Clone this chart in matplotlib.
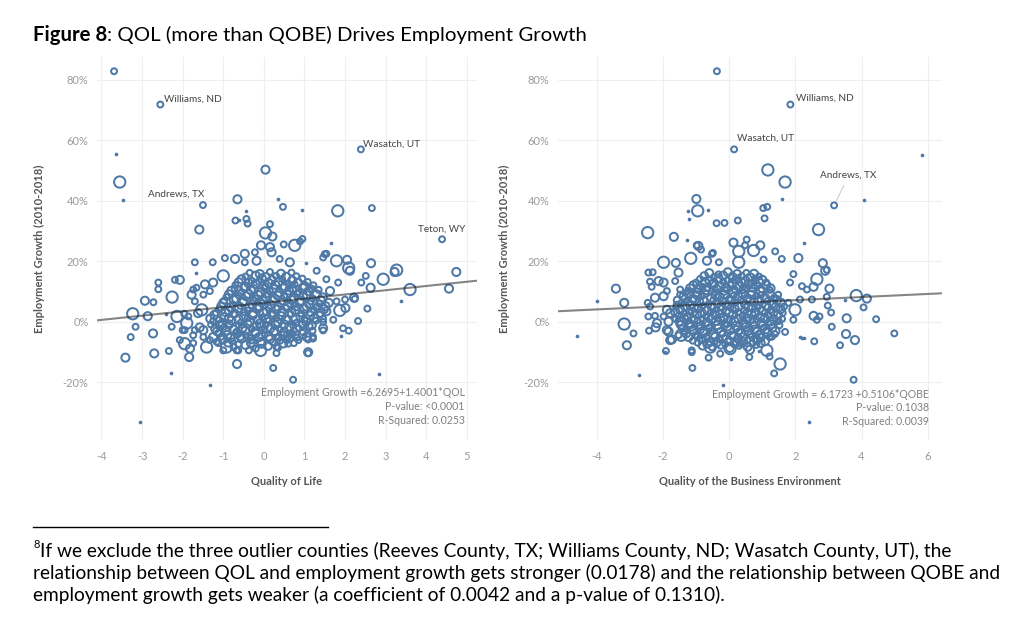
import matplotlib
matplotlib.use("Agg")
import matplotlib.pyplot as plt
from matplotlib.lines import Line2D

plt.rcParams["font.family"] = ["Lato", "DejaVu Sans"]

# ---------------- data ----------------
# size code: 0 = tiny filled dot, 1 = small ring, 2 = medium ring, 3 = large ring
QOL_INTERCEPT, QOL_SLOPE = 6.2695, 1.4001
QOBE_INTERCEPT, QOBE_SLOPE = 6.1723, 0.5106

# left panel, scattered counties
qol_x = [-3.69, -2.55, 2.39, -3.65, -3.55, -3.46, -1.50, -0.65, 0.04, 0.34, 0.47, 0.95, 1.82, 2.66,
         -1.59, -0.70, -0.62, -0.45, -0.43, -0.40, 0.15, 0.04, 0.21, 1.65, 4.39, -0.07, 0.15, 0.49,
         0.76, 0.89, 0.95,
         -1.32, -3.05, -2.29, -0.66, 0.23, 0.72, 2.83, -3.41, -3.28, -3.16, -3.23, -2.93, -2.72, -2.86,
         -2.73, -2.70, -2.60, -2.60, -2.34, -2.26, -2.19, -2.07, -2.42,
         2.64, 2.94, 3.27, 3.22, 3.60, 3.37, 4.56, 4.74, 2.32, 2.55, 2.22, 2.09, 1.79, 2.05, 2.01, 1.87,
         1.95, 2.09, 1.90, 2.51, 2.40, 2.63, 2.24, 2.12, 1.46, 1.50, 1.46, 1.46, 1.21, 1.09,
         -2.27, -2.14, -1.96, -1.90, -2.00, -2.07, -1.95, -1.84, -1.82, -1.74, -1.70, -1.58, -1.49, -1.41,
         -1.25, -1.12, -0.92, -0.63, -0.37, -0.08, -1.62, -1.78, -1.66, -1.45, -1.49, -1.33, -1.25, -1.70,
         -1.66, -1.26, -0.96, -1.00, -0.47, -0.47, -0.18, 0.19,
         1.54, 1.05, 1.30, 0.64, 0.39, -0.22, -0.71, -1.74, -1.70, -1.53, -1.86, -1.95, -1.74, -1.49,
         -1.33, -1.16, -1.00, -0.67, 0.31, 0.31, 0.56, 0.80, 1.09, 1.09, 0.64, 1.21, 1.46, 1.71, 1.54,
         1.79, 1.63, 2.00, 1.83, 1.54]
qol_y = [82.8, 71.8, 57.0, 55.3, 46.2, 40.2, 38.6, 40.5, 50.3, 40.7, 38.0, 37.0, 36.7, 37.6,
         30.5, 33.5, 33.8, 36.5, 34.0, 32.5, 32.3, 29.4, 28.2, 26.2, 27.3, 25.3, 24.7, 25.6,
         25.3, 26.6, 27.4,
         -20.9, -33.1, -17.0, -13.9, -15.2, -19.1, -17.3, -11.8, -5.0, -1.6, 2.7, 7.0, 6.5, 1.9,
         -3.8, -10.4, 13.0, 10.8, -9.6, 8.2, 13.9, 13.9, 2.7,
         19.4, 14.1, 17.1, 16.5, 10.7, 6.8, 11.0, 16.5, 0.3, 4.4, 8.0, 17.8, 20.2, 20.5, 4.6, 3.8,
         -2.1, -2.9, -4.7, 15.2, 13.0, 11.3, 7.6, 16.9, 21.3, 22.4, 0.0, -2.8, -5.5, -10.0,
         -1.6, 1.8, 2.7, -0.4, -2.7, -6.0, -7.2, -11.6, -8.8, -7.0, -2.7, -1.8, -5.0, -8.3,
         -5.0, -7.0, -8.3, -9.4, -9.4, -9.4, 2.9, 9.0, 11.3, 12.4, 9.0, 10.2, 13.0, 19.7,
         16.3, 19.7, 21.1, 15.2, 22.5, 19.7, 20.2, 23.0,
         22.5, 19.5, 16.9, 19.7, 20.8, 23.0, 20.8, 10.7, 6.8, 4.0, 1.8, -2.7, -4.4, -2.7,
         -6.0, -6.6, -9.4, -9.4, -8.3, -10.3, -6.0, -5.8, -5.8, -10.3, -3.8, -4.9, -2.1, 0.7, 3.5,
         6.8, 10.2, 7.4, 13.0, 14.1]
qol_w = [1, 1, 1, 0, 3, 0, 1, 2, 2, 0, 1, 0, 3, 1,
         2, 1, 0, 0, 1, 1, 1, 3, 2, 0, 1, 2, 2, 1,
         3, 1, 1,
         0, 0, 0, 2, 1, 1, 0, 2, 1, 1, 3, 2, 1, 2,
         2, 2, 1, 1, 1, 3, 1, 2, 0,
         2, 3, 3, 2, 3, 0, 2, 2, 1, 1, 2, 3, 3, 2, 2, 3,
         1, 1, 0, 1, 1, 2, 1, 2, 1, 1, 1, 1, 1, 2,
         1, 3, 1, 3, 1, 1, 3, 2, 2, 1, 1, 2, 1, 3,
         2, 1, 3, 1, 1, 3, 2, 2, 1, 2, 1, 1, 2, 1,
         0, 1, 1, 3, 2, 1, 2, 2,
         1, 0, 1, 2, 1, 1, 2, 1, 1, 3, 1, 1, 1, 2,
         1, 1, 1, 1, 1, 1, 1, 0, 1, 1, 1, 1, 2, 1, 2,
         1, 2, 1, 1, 1]

# left panel, dense core (even rows)
qol_core_x = [-0.75, -0.45, -0.20, 0.10, 0.35, 0.60,
              -1.00, -0.78, -0.55, -0.30, -0.08, 0.15, 0.40, 0.62, 0.85,
              -1.12, -0.90, -0.66, -0.44, -0.20, 0.02, 0.25, 0.48, 0.70, 0.95,
              -1.20, -0.98, -0.75, -0.52, -0.30, -0.06, 0.16, 0.40, 0.62, 0.86, 1.10,
              -1.25, -1.02, -0.80, -0.57, -0.34, -0.10, 0.12, 0.35, 0.58, 0.80, 1.04, 1.28,
              -1.22, -0.98, -0.74, -0.50, -0.27, -0.04, 0.20, 0.43, 0.66, 0.90, 1.14, 1.38,
              -1.10, -0.86, -0.63, -0.40, -0.16, 0.07, 0.30, 0.54, 0.77, 1.00, 1.24, 1.48,
              -1.00, -0.76, -0.52, -0.28, -0.05, 0.18, 0.42, 0.65, 0.88, 1.12, 1.36, 1.60,
              -0.92, -0.68, -0.44, -0.20, 0.04, 0.27, 0.50, 0.74, 0.97, 1.20, 1.45,
              -0.80, -0.56, -0.32, -0.08, 0.15, 0.38, 0.62, 0.86, 1.10, 1.35,
              -0.70, -0.45, -0.20, 0.04, 0.28, 0.52, 0.76, 1.00, 1.22,
              -0.55, -0.30, -0.05, 0.20, 0.45, 0.70, 0.95,
              -0.35, -0.10, 0.15, 0.42, 0.68]
qol_core_y = [-8.3, -7.6, -8.8, -7.9, -8.5, -7.2,
              -5.8, -6.4, -5.5, -6.1, -6.6, -5.7, -6.2, -5.4, -6.0,
              -3.6, -4.3, -3.9, -4.5, -3.7, -4.1, -3.4, -4.4, -3.8, -4.0,
              -2.2, -1.6, -2.5, -1.9, -2.3, -1.5, -2.1, -2.6, -1.8, -2.0, -1.4,
              0.3, -0.4, 0.5, -0.2, 0.2, -0.5, 0.4, -0.1, 0.6, -0.3, 0.1, 0.4,
              2.3, 1.6, 2.5, 1.8, 2.2, 1.5, 2.4, 1.9, 2.6, 1.7, 2.1, 2.4,
              4.2, 3.6, 4.5, 3.8, 4.3, 3.5, 4.1, 4.6, 3.7, 4.4, 3.9, 4.2,
              6.3, 5.7, 6.5, 5.8, 6.2, 5.6, 6.4, 5.9, 6.6, 5.8, 6.1, 6.3,
              8.2, 7.6, 8.5, 7.8, 8.3, 7.7, 8.4, 7.9, 8.6, 7.8, 8.1,
              10.3, 9.6, 10.5, 9.8, 10.2, 9.7, 10.4, 9.9, 10.1, 10.6,
              12.2, 11.7, 12.5, 11.8, 12.3, 11.6, 12.4, 11.9, 12.1,
              14.1, 13.6, 14.4, 13.8, 14.2, 13.7, 14.3,
              16.2, 15.8, 16.5, 15.9, 16.3]
qol_core_w = [1, 2, 1, 2, 1, 1,
              2, 1, 2, 1, 2, 2, 1, 2, 1,
              1, 2, 2, 1, 2, 1, 2, 2, 1, 2,
              2, 1, 2, 2, 1, 2, 2, 1, 2, 1, 2,
              1, 2, 2, 1, 2, 2, 1, 2, 2, 1, 2, 1,
              2, 2, 1, 2, 2, 1, 2, 2, 1, 2, 2, 1,
              1, 2, 2, 1, 2, 2, 2, 1, 2, 2, 1, 2,
              2, 1, 2, 2, 1, 2, 2, 1, 2, 2, 1, 2,
              1, 2, 2, 1, 2, 2, 1, 2, 2, 1, 2,
              2, 1, 2, 2, 1, 2, 2, 1, 2, 1,
              1, 2, 2, 1, 2, 2, 1, 2, 1,
              2, 1, 2, 2, 1, 2, 1,
              1, 2, 1, 2, 1]

# left panel, dense core (odd rows in between)
qol_fill_x = [-0.88, -0.62, -0.32, -0.05, 0.22, 0.48, 0.74,
              -1.05, -0.82, -0.58, -0.34, -0.12, 0.12, 0.36, 0.58, 0.82, 1.05,
              -1.15, -0.92, -0.68, -0.45, -0.22, 0.02, 0.26, 0.50, 0.74, 0.98, 1.20,
              -1.30, -1.08, -0.86, -0.62, -0.40, -0.18, 0.05, 0.28, 0.50, 0.72, 0.96, 1.18,
              -1.32, -1.10, -0.86, -0.62, -0.40, -0.16, 0.06, 0.30, 0.54, 0.78, 1.00, 1.24, 1.46,
              -1.18, -0.95, -0.72, -0.48, -0.26, -0.02, 0.22, 0.44, 0.68, 0.92, 1.16, 1.40,
              -1.05, -0.82, -0.58, -0.36, -0.12, 0.12, 0.35, 0.58, 0.82, 1.05, 1.30, 1.52,
              -0.98, -0.74, -0.50, -0.26, -0.02, 0.22, 0.45, 0.68, 0.92, 1.16, 1.40,
              -0.86, -0.62, -0.38, -0.14, 0.10, 0.34, 0.58, 0.82, 1.06, 1.30,
              -0.72, -0.48, -0.24, 0.00, 0.24, 0.48, 0.72, 0.96, 1.18,
              -0.62, -0.38, -0.12, 0.12, 0.36, 0.60, 0.84, 1.08,
              -0.45, -0.20, 0.05, 0.30, 0.55, 0.80]
qol_fill_y = [-6.8, -7.3, -6.9, -7.2, -6.7, -7.1, -7.0,
              -4.9, -5.2, -4.7, -5.3, -5.0, -4.8, -5.1, -4.6, -5.2, -4.9,
              -3.1, -2.8, -3.3, -2.9, -3.2, -2.7, -3.0, -3.3, -2.8, -3.1, -2.9,
              -0.9, -1.2, -0.8, -1.1, -0.7, -1.3, -0.9, -1.0, -0.8, -1.2, -0.9, -1.1,
              1.1, 0.8, 1.2, 0.9, 1.3, 0.7, 1.0, 1.2, 0.8, 1.1, 0.9, 1.3, 1.0,
              3.0, 3.3, 2.8, 3.2, 2.9, 3.1, 2.7, 3.3, 3.0, 2.8, 3.2, 3.0,
              5.1, 4.8, 5.3, 4.9, 5.2, 4.7, 5.0, 5.3, 4.8, 5.1, 4.9, 5.2,
              7.0, 7.3, 6.8, 7.2, 6.9, 7.1, 6.7, 7.3, 7.0, 6.8, 7.2,
              9.1, 8.8, 9.3, 8.9, 9.2, 8.7, 9.0, 9.3, 8.8, 9.1,
              11.0, 11.3, 10.8, 11.2, 10.9, 11.1, 10.7, 11.2, 11.0,
              13.1, 12.8, 13.3, 12.9, 13.2, 12.7, 13.0, 13.2,
              15.0, 15.3, 14.8, 15.2, 14.9, 15.1]
qol_fill_w = [2, 1, 2, 2, 1, 2, 1,
              1, 2, 2, 1, 2, 2, 1, 2, 1, 2,
              2, 2, 1, 2, 2, 1, 2, 2, 1, 2, 1,
              1, 2, 2, 1, 2, 2, 1, 2, 2, 1, 2, 2,
              2, 1, 2, 2, 1, 2, 2, 1, 2, 2, 1, 2, 1,
              1, 2, 2, 1, 2, 2, 1, 2, 2, 1, 2, 2,
              2, 2, 1, 2, 2, 1, 2, 2, 1, 2, 1, 2,
              1, 2, 2, 1, 2, 2, 1, 2, 2, 1, 2,
              2, 1, 2, 2, 1, 2, 2, 1, 2, 2,
              1, 2, 2, 1, 2, 2, 1, 2, 1,
              2, 2, 1, 2, 2, 1, 2, 1,
              1, 2, 2, 1, 2, 1]

# right panel, scattered counties
qobe_x = [-0.37, 1.85, 0.15, 5.82, 1.17, 1.69, 1.59, 3.17, 4.06, -0.99, -0.95, -1.23, -0.64, -1.20,
          -0.38, -0.14, 0.26, 1.03, 1.15, 1.07, 2.70, 2.25, -2.46, -1.67, -1.26, -0.93, -0.85, -0.49,
          0.13, 0.53, 0.94, 1.39, 1.59, 2.09, 2.83, -1.98, -1.61, -1.16, -0.67, -0.31, 0.29, 0.74, 0.29,
          -4.60, -4.00, -3.42, -3.17, -3.17, -3.09, -2.89, -2.73, -2.46, -2.42, -2.44, -2.31, -2.34, -2.39,
          -2.24, -2.22, -2.13, -1.98, -1.91, -1.83, -1.73, -1.83, -1.88, -1.98, -1.45, -1.13, -1.11, -0.62,
          -0.57, -0.19, 0.06, 0.03, 0.63, 0.61, 0.89, 1.14, 1.22, 1.36, 1.54, 2.40, 3.76, 1.99, 2.20,
          2.27, 2.55, 2.57, 2.65, 2.73, 2.65, 2.55, 2.90, 2.95, 3.03, 2.95, 2.98, 3.08, 3.10, 3.35,
          3.50, 3.55, 3.53, 3.80, 3.84, 4.06, 4.16, 4.44, 4.99,
          -0.98, -0.52, 0.48, 1.04, -2.24, -1.88, -1.63, -1.53, -1.48, -2.39, -2.44, -2.18, -1.88, -1.98,
          -1.78, -1.58, -1.78, -1.53, -1.43, -1.93, -1.13, -0.82, -0.27, 0.33, 0.84, 1.29, 1.69, 1.94,
          1.79, 2.14, 2.20, 1.84, 1.94, 2.35, 2.50, 2.14]
qobe_y = [82.8, 71.8, 57.0, 55.1, 50.2, 46.2, 40.7, 38.5, 40.2, 40.6, 36.7, 36.5, 36.9, 33.9,
          32.6, 32.7, 33.5, 37.6, 38.0, 34.2, 30.5, 26.2, 29.5, 28.1, 26.9, 25.1, 23.9, 22.8,
          26.2, 27.2, 25.3, 23.3, 20.8, 21.1, 19.4, 19.7, 19.5, 21.0, 20.2, 19.7, 19.7, 23.6, 23.3,
          -4.7, 6.8, 11.0, 6.3, -0.7, -7.7, -3.8, -17.4, 6.3, -2.9, 16.3, 16.4, 11.6, 13.3,
          2.0, -1.8, 13.5, 13.0, -9.6, -3.2, -5.8, 0.1, 4.0, 8.5, -4.4, -9.4, -15.2, -11.8,
          -8.3, -20.9, -12.2, -8.8, -9.2, -11.6, -9.7, -9.4, -11.4, -17.0, -13.9, -33.1, -19.1, 4.0, -5.2,
          -5.2, 2.0, -6.4, 0.7, 1.8, 14.1, 11.6, 16.9, 17.2, 11.0, 8.3, 5.4, 3.1, -1.6, -7.7,
          7.4, 1.2, -4.0, -6.0, 8.7, 4.8, 7.7, 0.9, -3.8,
          25.3, 22.5, 25.3, 20.6, 8.0, 10.2, 13.5, 16.3, 10.7, 5.1, 1.8, -0.4, -2.7, 1.8,
          2.9, 5.7, -6.0, -4.4, -0.4, -10.0, -10.0, -6.0, -10.5, -7.2, -6.0, -4.9, -3.3, 0.7,
          6.3, 7.4, 11.8, 13.0, 15.8, 10.7, 7.4, -4.9]
qobe_w = [1, 1, 1, 0, 3, 3, 0, 1, 0, 2, 3, 0, 0, 0,
          1, 1, 1, 1, 1, 1, 3, 0, 3, 2, 0, 2, 1, 1,
          2, 1, 2, 1, 1, 2, 2, 3, 2, 3, 2, 1, 3, 3, 3,
          0, 0, 2, 2, 3, 2, 1, 0, 1, 1, 1, 1, 1, 1,
          1, 2, 2, 2, 1, 2, 2, 2, 2, 2, 3, 1, 1, 1,
          3, 0, 0, 3, 2, 1, 0, 3, 1, 1, 3, 0, 1, 3, 0,
          0, 2, 1, 1, 1, 3, 2, 2, 1, 2, 1, 1, 1, 1, 1,
          0, 2, 2, 2, 3, 1, 2, 1, 1,
          1, 1, 1, 1, 2, 1, 1, 2, 1, 1, 1, 2, 2, 1,
          2, 1, 2, 1, 3, 0, 1, 1, 1, 1, 1, 1, 1, 1,
          1, 1, 1, 1, 1, 1, 1, 0]

# right panel, dense core (even rows)
qobe_core_x = [-0.80, -0.52, -0.25, 0.02, 0.30, 0.56, 0.82,
               -1.10, -0.83, -0.56, -0.28, 0.00, 0.27, 0.55, 0.82, 1.08,
               -1.30, -1.03, -0.76, -0.48, -0.20, 0.08, 0.36, 0.63, 0.90, 1.17, 1.38,
               -1.42, -1.15, -0.88, -0.60, -0.33, -0.05, 0.22, 0.50, 0.77, 1.04, 1.30,
               -1.50, -1.22, -0.95, -0.67, -0.40, -0.12, 0.15, 0.43, 0.70, 0.97, 1.24, 1.50,
               -1.52, -1.25, -0.97, -0.70, -0.42, -0.15, 0.12, 0.40, 0.67, 0.94, 1.20, 1.47,
               -1.48, -1.20, -0.93, -0.66, -0.38, -0.10, 0.17, 0.45, 0.72, 0.99, 1.26, 1.55,
               -1.45, -1.18, -0.90, -0.62, -0.35, -0.07, 0.20, 0.48, 0.75, 1.02, 1.30, 1.56,
               -1.38, -1.10, -0.83, -0.55, -0.28, 0.00, 0.27, 0.55, 0.82, 1.09, 1.36,
               -1.25, -0.98, -0.70, -0.43, -0.15, 0.13, 0.40, 0.68, 0.95, 1.22,
               -1.08, -0.80, -0.52, -0.25, 0.03, 0.30, 0.58, 0.85, 1.12,
               -0.88, -0.60, -0.32, -0.05, 0.22, 0.50, 0.78, 1.00,
               -0.60, -0.32, -0.04, 0.24, 0.52, 0.75]
qobe_core_y = [-7.8, -8.4, -7.5, -8.6, -7.9, -8.2, -7.6,
               -6.2, -5.6, -6.5, -5.8, -6.3, -5.5, -6.1, -5.7, -6.4,
               -3.8, -4.4, -3.6, -4.2, -3.9, -4.5, -3.7, -4.1, -4.3, -3.6, -4.0,
               -2.1, -1.6, -2.4, -1.8, -2.2, -1.5, -2.3, -1.7, -2.5, -1.9, -2.0,
               0.2, -0.4, 0.5, -0.1, 0.3, -0.5, 0.4, -0.2, 0.6, -0.3, 0.1, 0.3,
               2.2, 1.7, 2.5, 1.8, 2.3, 1.6, 2.4, 1.9, 2.6, 1.7, 2.1, 2.3,
               4.1, 3.6, 4.4, 3.8, 4.2, 3.5, 4.3, 3.9, 4.6, 3.7, 4.0, 4.2,
               6.2, 5.7, 6.5, 5.9, 6.3, 5.6, 6.4, 5.8, 6.6, 5.9, 6.1, 6.3,
               8.3, 7.7, 8.5, 7.9, 8.2, 7.6, 8.4, 7.8, 8.6, 7.9, 8.1,
               10.2, 9.7, 10.5, 9.8, 10.3, 9.6, 10.4, 9.9, 10.1, 10.6,
               12.1, 11.6, 12.4, 11.8, 12.3, 11.7, 12.5, 11.9, 12.2,
               14.2, 13.7, 14.4, 13.8, 14.1, 13.6, 14.3, 13.9,
               16.1, 15.7, 16.4, 15.8, 16.2, 15.9]
qobe_core_w = [2, 1, 2, 2, 1, 2, 1,
               1, 2, 2, 1, 2, 2, 1, 2, 2,
               2, 1, 2, 2, 1, 2, 2, 1, 2, 2, 1,
               1, 2, 2, 1, 2, 2, 1, 2, 2, 1, 2,
               2, 2, 1, 2, 2, 1, 2, 2, 1, 2, 2, 1,
               1, 2, 2, 1, 2, 2, 2, 1, 2, 2, 1, 2,
               2, 1, 2, 2, 1, 2, 2, 1, 2, 2, 1, 2,
               1, 2, 2, 1, 2, 2, 1, 2, 2, 1, 2, 2,
               2, 2, 1, 2, 2, 1, 2, 2, 1, 2, 1,
               1, 2, 2, 1, 2, 2, 1, 2, 2, 1,
               2, 1, 2, 2, 1, 2, 2, 1, 2,
               1, 2, 2, 1, 2, 2, 1, 2,
               2, 1, 2, 2, 1, 2]

# right panel, dense core (odd rows in between)
qobe_fill_x = [-0.95, -0.66, -0.38, -0.12, 0.16, 0.43, 0.70, 0.95,
               -1.22, -0.96, -0.70, -0.42, -0.14, 0.14, 0.41, 0.68, 0.95, 1.22,
               -1.35, -1.08, -0.80, -0.52, -0.25, 0.03, 0.30, 0.58, 0.85, 1.12, 1.40,
               -1.45, -1.18, -0.90, -0.62, -0.35, -0.08, 0.20, 0.48, 0.75, 1.02, 1.28, 1.52,
               -1.62, -1.36, -1.08, -0.82, -0.54, -0.27, 0.00, 0.28, 0.55, 0.82, 1.08, 1.35, 1.60,
               -1.62, -1.36, -1.10, -0.82, -0.55, -0.28, 0.00, 0.27, 0.54, 0.80, 1.07, 1.34, 1.62,
               -1.60, -1.34, -1.06, -0.80, -0.52, -0.24, 0.04, 0.30, 0.58, 0.86, 1.12, 1.40, 1.66,
               -1.55, -1.30, -1.04, -0.76, -0.48, -0.20, 0.07, 0.35, 0.62, 0.90, 1.16, 1.45,
               -1.48, -1.22, -0.96, -0.69, -0.42, -0.14, 0.14, 0.41, 0.68, 0.96, 1.23, 1.48,
               -1.18, -0.92, -0.65, -0.38, -0.10, 0.17, 0.44, 0.72, 0.98, 1.25,
               -1.00, -0.73, -0.46, -0.18, 0.10, 0.37, 0.64, 0.90, 1.12,
               -0.75, -0.46, -0.18, 0.10, 0.38, 0.64, 0.90]
qobe_fill_y = [-6.9, -7.2, -6.8, -7.3, -7.0, -6.7, -7.1, -6.9,
               -5.0, -4.8, -5.3, -4.9, -5.2, -4.7, -5.1, -4.8, -5.2, -5.0,
               -3.0, -2.8, -3.2, -2.9, -3.3, -2.7, -3.1, -2.9, -3.2, -2.8, -3.0,
               -1.0, -0.8, -1.2, -0.9, -1.1, -0.7, -1.3, -0.9, -1.0, -1.2, -0.8, -1.1,
               1.0, 1.2, 0.8, 1.1, 0.9, 1.3, 0.7, 1.0, 1.2, 0.8, 1.1, 0.9, 1.0,
               3.1, 2.8, 3.2, 2.9, 3.3, 2.7, 3.0, 3.2, 2.8, 3.1, 2.9, 3.2, 3.0,
               5.0, 5.2, 4.8, 5.3, 4.9, 5.1, 4.7, 5.2, 5.0, 4.8, 5.3, 4.9, 5.1,
               7.1, 6.8, 7.3, 6.9, 7.2, 6.7, 7.0, 7.3, 6.8, 7.1, 6.9, 7.2,
               9.0, 9.2, 8.8, 9.3, 8.9, 9.1, 8.7, 9.2, 9.0, 8.8, 9.3, 9.0,
               11.1, 10.8, 11.3, 10.9, 11.2, 10.7, 11.0, 11.3, 10.8, 11.1,
               13.0, 13.2, 12.8, 13.3, 12.9, 13.1, 12.7, 13.2, 13.0,
               15.1, 14.8, 15.3, 14.9, 15.2, 14.7, 15.0]
qobe_fill_w = [1, 2, 2, 1, 2, 2, 1, 2,
               2, 1, 2, 2, 1, 2, 2, 1, 2, 1,
               1, 2, 2, 1, 2, 2, 1, 2, 2, 1, 2,
               2, 2, 1, 2, 2, 1, 2, 2, 1, 2, 2, 1,
               1, 2, 2, 1, 2, 2, 1, 2, 2, 1, 2, 2, 1,
               2, 1, 2, 2, 1, 2, 2, 1, 2, 2, 1, 2, 1,
               1, 2, 2, 1, 2, 2, 1, 2, 2, 1, 2, 2, 1,
               2, 1, 2, 2, 1, 2, 2, 1, 2, 2, 1, 2,
               1, 2, 2, 1, 2, 2, 1, 2, 2, 1, 2, 1,
               2, 2, 1, 2, 2, 1, 2, 2, 1, 2,
               1, 2, 2, 1, 2, 2, 1, 2, 1,
               2, 1, 2, 2, 1, 2, 1]

y_ticks = [-20, 0, 20, 40, 60, 80]
qol_ticks = [-4, -3, -2, -1, 0, 1, 2, 3, 4, 5]
qobe_ticks = [-4, -2, 0, 2, 4, 6]

# labelled counties: (name, x, y, text offset in points, ha)
qol_labels = [("Williams, ND", -2.55, 71.8, (2.5, 3.5), "left"),
              ("Wasatch, UT", 2.39, 57.0, (1.8, 3.4), "left"),
              ("Andrews, TX", -1.50, 38.6, (1.0, 8.0), "right"),
              ("Teton, WY", 4.39, 27.3, (0.0, 7.2), "center")]
qobe_labels = [("Williams, ND", 1.85, 71.8, (3.8, 4.4), "left"),
               ("Wasatch, UT", 0.15, 57.0, (2.0, 8.0), "left"),
               ("Andrews, TX", 3.17, 38.5, (10.5, 21.5), "center")]

# ---------------- style ----------------
BLUE = "#4e79a7"
TICK_GREY = "#9a9a9a"
LABEL_GREY = "#555555"
SIZE = {1: 18, 2: 34, 3: 66}
DOT = 7


def draw_panel(ax, pts, icpt, slope, xlim, xticks, labels, reg_lines, reg_x, xlabel, ylab_x):
    ax.set_xlim(*xlim)
    ax.set_ylim(-39, 87.5)
    for s in ax.spines.values():
        s.set_visible(False)
    ax.set_xticks(xticks)
    ax.set_xticklabels([str(t) for t in xticks])
    ax.set_yticks(y_ticks)
    ax.set_yticklabels([f"{t}%" for t in y_ticks])
    ax.tick_params(length=0, labelsize=8, labelcolor=TICK_GREY)
    ax.tick_params(axis="x", pad=8)
    ax.tick_params(axis="y", pad=6)
    ax.grid(True, color="#efefef", lw=0.8, zorder=0)
    ax.axhline(0, color="#c4c4c4", lw=0.8, ls=(0, (1, 1.5)), zorder=1)
    ax.axvline(0, color="#c4c4c4", lw=0.8, ls=(0, (1, 1.5)), zorder=1)

    allx, ally, allw = [], [], []
    for xs, ys, ws in pts:
        allx += xs
        ally += ys
        allw += ws
    ring = [(x, y, SIZE[w]) for x, y, w in zip(allx, ally, allw) if w > 0]
    dots = [(x, y) for x, y, w in zip(allx, ally, allw) if w == 0]
    ax.scatter([r[0] for r in ring], [r[1] for r in ring], s=[r[2] for r in ring],
               facecolors="none", edgecolors=BLUE, linewidths=1.45, zorder=3)
    ax.scatter([d[0] for d in dots], [d[1] for d in dots], s=DOT,
               color=BLUE, linewidths=0, zorder=3)

    x0, x1 = xlim
    ax.plot([x0, x1], [icpt + slope * x0, icpt + slope * x1],
            color="#222222", alpha=0.55, lw=1.5, zorder=4, solid_capstyle="butt")

    for name, lx, ly, off, ha in labels:
        arrow = None
        if off[1] > 15:
            arrow = dict(arrowstyle="-", color="#c8c8c8", lw=0.7, shrinkA=2, shrinkB=3)
        ax.annotate(name, (lx, ly), xytext=off, textcoords="offset points",
                    ha=ha, va="center", fontsize=7.2, color="#444444",
                    arrowprops=arrow, zorder=5)

    for txt, yy in reg_lines:
        ax.text(reg_x, yy, txt, transform=ax.transAxes, ha="right", va="center",
                fontsize=7.6, color="#808080", zorder=5)

    ax.set_xlabel(xlabel, fontsize=8, color=LABEL_GREY, fontweight="bold")
    ax.xaxis.set_label_coords(0.5, -0.094)
    ax.set_ylabel("Employment Growth (2010-2018)", fontsize=8, color=LABEL_GREY,
                  fontweight="bold")
    ax.yaxis.set_label_coords(ylab_x, 0.5)


fig = plt.figure(figsize=(10.24, 6.31), dpi=100)
W, H = 1024, 631

axL = fig.add_axes([97 / W, 1 - 440 / H, 380 / W, 383 / H])
axR = fig.add_axes([558 / W, 1 - 440 / H, 384 / W, 383 / H])

draw_panel(axL,
           [(qol_x, qol_y, qol_w), (qol_core_x, qol_core_y, qol_core_w),
            (qol_fill_x, qol_fill_y, qol_fill_w)],
           QOL_INTERCEPT, QOL_SLOPE, (-4.11, 5.25), qol_ticks, qol_labels,
           [(f"Employment Growth ={QOL_INTERCEPT}+{QOL_SLOPE}*QOL", 0.124),
            ("P-value: <0.0001", 0.088),
            ("R-Squared: 0.0253", 0.052)],
           0.968, "Quality of Life", -0.137)
draw_panel(axR,
           [(qobe_x, qobe_y, qobe_w), (qobe_core_x, qobe_core_y, qobe_core_w),
            (qobe_fill_x, qobe_fill_y, qobe_fill_w)],
           QOBE_INTERCEPT, QOBE_SLOPE, (-5.17, 6.43), qobe_ticks, qobe_labels,
           [(f"Employment Growth = {QOBE_INTERCEPT} +{QOBE_SLOPE}*QOBE", 0.118),
            ("P-value: 0.1038", 0.085),
            ("R-Squared: 0.0039", 0.048)],
           0.966, "Quality of the Business Environment", -0.125)

# title: bold "Figure 8" followed by regular text
t1 = fig.text(33 / W, 1 - 35 / H, "Figure 8", fontsize=14.7, fontweight="bold",
              color="black", va="center", ha="left")
renderer = fig.canvas.get_renderer()
bb = t1.get_window_extent(renderer=renderer)
fig.text(bb.x1 / W, 1 - 35 / H, ": QOL (more than QOBE) Drives Employment Growth",
         fontsize=14.7, color="black", va="center", ha="left")

# footnote
fig.add_artist(Line2D([33 / W, 328 / W], [1 - 527 / H, 1 - 527 / H],
                      color="black", lw=1.0))
foot = ["If we exclude the three outlier counties (Reeves County, TX; Williams County, ND; Wasatch County, UT), the",
        "relationship between QOL and employment growth gets stronger (0.0178) and the relationship between QOBE and",
        "employment growth gets weaker (a coefficient of 0.0042 and a p-value of 0.1310)."]
fig.text(33 / W, 1 - 545 / H, "8", fontsize=8, va="center", ha="left")
fig.text(40 / W, 1 - 551 / H, foot[0], fontsize=13.8, va="center", ha="left")
fig.text(33 / W, 1 - 573 / H, foot[1], fontsize=13.8, va="center", ha="left")
fig.text(33 / W, 1 - 595 / H, foot[2], fontsize=13.8, va="center", ha="left")

fig.savefig("out.png", dpi=100)
